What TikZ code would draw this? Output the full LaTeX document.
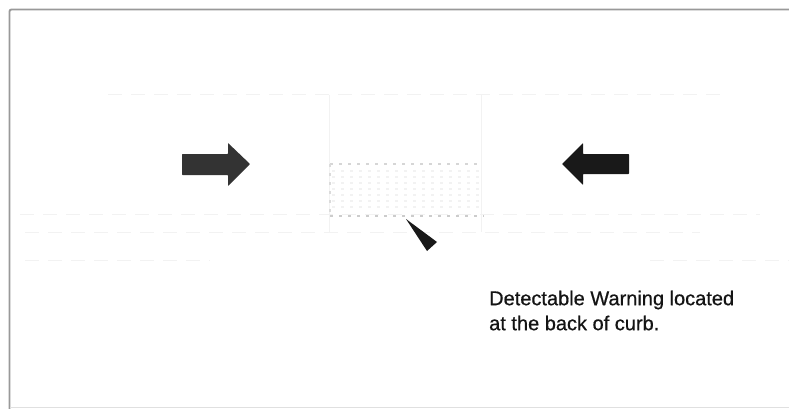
\documentclass[tikz,border=0pt]{standalone}
\usepackage{fontspec}
\setmainfont{Liberation Sans}
\newfontfamily\notefont[FakeBold=0.6]{Liberation Sans}
\definecolor{frame}{gray}{0.60}
\definecolor{faint}{gray}{0.95}
\definecolor{dots}{gray}{0.80}
\tikzset{
  framerule/.style={draw=frame,line width=1.9pt},
  faintrule/.style={draw=faint,line width=1pt,dash pattern=on 14pt off 9pt},
  dotrule/.style={draw=dots,line width=1.6pt,dash pattern=on 3pt off 6pt},
  fieldrule/.style={draw=faint,line width=1.2pt,dash pattern=on 3pt off 6pt},
  note/.style={font=\notefont\fontsize{20pt}{25pt}\selectfont,text=black!92,align=left,anchor=north west,inner sep=0pt}
}
\begin{document}
\begin{tikzpicture}[x=1pt,y=-1pt]
\useasboundingbox (0,0) rectangle (789,409);
\fill[white] (0,0) rectangle (789,409);
% frame
\coordinate (fa) at (9.5,409);
\coordinate (fb) at (9.5,9.5);
\coordinate (fc) at (789,9.5);
\coordinate (fd) at (10,407.5);
\coordinate (fe) at (789,407.5);
\draw[framerule,rounded corners=2pt] (fa) -- (fb) -- (fc);
\draw[draw=black!12,line width=1pt] (fd) -- (fe);
% faint plan lines
\draw[faintrule] (108,95) -- (720,95);
\draw[faintrule] (20,214) -- (760,214);
\draw[faintrule] (25,232) -- (700,232);
\draw[faintrule] (25,260) -- (210,260);
\draw[faintrule] (650,260) -- (790,260);
\draw[draw=faint,line width=1pt] (329,95) -- (329,232);
\draw[draw=faint,line width=1pt] (481,95) -- (481,232);
% warning field
\foreach \yy in {171,177,183,189,195,201,207}{
  \draw[fieldrule] (332,\yy) -- (480,\yy);
}
\draw[dotrule,draw=dots!80] (330,164) -- (481,164);
\draw[dotrule] (330,216) -- (484,216);
\draw[dotrule,draw=dots!70] (330,164) -- (330,216);
% arrows
\fill[black!80,rounded corners=0.6pt] (182,154) -- (228,154) -- (228,143) -- (250,164) -- (228,186) -- (228,175) -- (182,175) -- cycle;
\fill[black!90,rounded corners=0.6pt] (629,154) -- (583,154) -- (583,143) -- (562,164) -- (583,185) -- (583,174) -- (629,174) -- cycle;
\fill[black!90] (406,219) -- (437,242) -- (427,251) -- cycle;
\node[note] (n) at (489,290.5) {Detectable Warning located\\at the back of curb.};
\end{tikzpicture}
\end{document}
